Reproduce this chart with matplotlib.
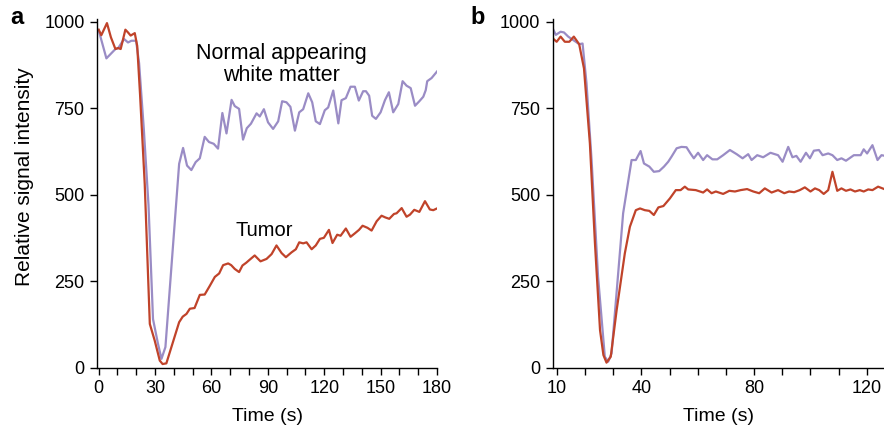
"""Kurva intensitas sinyal relatif (DSC perfusion) untuk tumor dan white matter."""

import matplotlib

matplotlib.use("Agg")
import matplotlib.pyplot as plt
from matplotlib import font_manager
from matplotlib.ticker import FixedLocator, MultipleLocator

# Panel a: waktu (s) dan nilai intensitas.
a_wm_time = [0, 4.1, 8.9, 10.3, 13.5, 15.6, 17.4, 19.9, 21.5, 24, 26.5, 28.9, 31.5,
             33.4, 35.5, 42.8, 44.9, 47, 49.3, 51.6, 53.8, 56.4, 58.7, 61.2, 63.5, 65.8,
             68, 70.7, 72.4, 74.7, 76.8, 78.8, 81, 84, 85.7, 87.9, 90.1, 92.8, 95.5, 97.6,
             99.9, 102, 104.4, 106.7, 108.8, 111.5, 113.6, 115.5, 117.7, 120.3, 122.1,
             124.8, 127.5, 129.2, 131.5, 134, 136.3, 138.4, 140.7, 142.2, 143.9, 145.5,
             147.5, 150, 152.3, 154.4, 156.7, 159.4, 161.7, 163.8, 166, 168.3, 170.6,
             172.7, 174, 174.8, 177.1, 180]
a_wm_value = [975, 894, 921, 923, 950, 940, 945, 945, 880, 690, 470, 140, 70,
              25, 59, 589, 635, 584, 571, 594, 605, 667, 652, 647, 633, 736,
              677, 774, 756, 748, 659, 692, 705, 735, 726, 747, 709, 690, 712, 770,
              767, 754, 685, 738, 747, 793, 767, 712, 704, 744, 752,
              801, 706, 773, 779, 812, 812, 772, 799, 799, 786, 728,
              719, 738, 773, 796, 738, 762, 828, 815, 808, 757, 770,
              783, 802, 828, 837, 856]

a_tumor_time = [0, 1.4, 4.4, 6.5, 8.9, 10.3, 11.7, 14.2, 15.6, 17, 19.2, 20.5, 22,
                24.5, 27.2, 29.8, 32.5, 34, 36, 42.8, 44.7, 46.7, 48.5, 51, 53.8, 56.4,
                59.1, 61.8, 64.1, 66.2, 68.9, 70.5, 72.4, 74.7, 76.5, 78.5, 80.4, 83,
                86.1, 89.3, 92, 94.6, 97.3, 99.6, 102.6, 104.9, 106.7, 108.8, 110.6,
                113.3, 115.5, 117.7, 119.8, 122.5, 124.4, 126.9, 128.7, 131.5, 134,
                136.3, 138.5, 140.4, 143, 145.2, 147.9, 150.5, 152.5, 154.6, 157.1,
                158.5, 161.2, 163.8, 165.6, 167.9, 170.6, 173.6, 176.2, 178, 180]
a_tumor_value = [977, 961, 996, 955, 921, 924, 921, 977, 969, 960, 967, 930, 790,
                 530, 126, 78, 20, 10, 12, 131, 147, 155, 170, 172, 210, 211,
                 236, 262, 272, 296, 301, 296, 285, 276, 295, 303, 312, 324,
                 307, 314, 328, 353, 331, 319, 333, 342, 362, 359, 362,
                 342, 353, 372, 375, 398, 360, 384, 381, 402, 378,
                 388, 398, 410, 404, 396, 423, 439, 434, 430, 444,
                 446, 461, 436, 442, 456, 450, 481, 457, 455, 460]

# Panel b: rekaman kedua dengan jendela waktu 10-126 s.
b_wm_time = [8.5, 9.6, 11.3, 12.5, 14, 15.4, 16.7, 17.9, 19.1, 20.5, 22.3, 24.6, 27,
             28.2, 29.4, 33.5, 36.5, 38, 39.7, 40.9, 42.8, 44.4, 46.3, 48, 49.5, 50.7,
             52.5, 54.2, 56, 57.4, 58.6, 60.1, 61.9, 63.3, 65.2, 66.9, 69, 71.4, 73.8,
             75.9, 77.9, 79.1, 81.1, 83.2, 85.8, 88.5, 90.1, 92.1, 93.6, 95, 96.5,
             98.4, 99.8, 101.2, 103, 104.3, 106.3, 107.8, 109.5, 111, 112.6, 115.4,
             117.8, 118.9, 120.1, 122, 123.8, 125.2, 126.5]
b_wm_value = [981, 962, 971, 969, 957, 949, 942, 935, 937, 822, 600, 263, 31,
              17, 41, 446, 600, 600, 626, 590, 581, 566, 568, 581, 595, 610,
              634, 638, 637, 619, 605, 621, 600, 614, 602, 602, 614, 629, 617,
              605, 617, 600, 614, 608, 621, 614, 595, 638, 608, 612, 595,
              621, 605, 627, 629, 614, 619, 614, 600, 605, 598, 614,
              614, 631, 619, 643, 600, 614, 612]

b_tumor_time = [8.5, 9.9, 11.3, 12.8, 14.4, 16, 17.9, 19.6, 21.7, 23.5, 25.3, 26.5,
                27.6, 29.1, 31.2, 34.1, 35.9, 38, 39.5, 41.2, 42.8, 44.4, 46, 47.8,
                50.1, 52.2, 53.9, 55.4, 56.6, 59.3, 61.9, 63.3, 64.9, 66.4, 69, 71.2,
                73.2, 75.2, 77.5, 79.7, 81.8, 83.8, 86.2, 88.5, 90.7, 92.4, 94.2,
                96.2, 98, 100, 101.6, 103.1, 104.7, 106.3, 107.8, 109.5, 111, 112.6,
                114.2, 115.8, 117.5, 118.9, 120.5, 122, 124, 126.5]
b_tumor_value = [952, 942, 957, 942, 942, 957, 935, 865, 648, 359, 108, 36,
                 14, 31, 166, 330, 407, 455, 460, 455, 453, 441, 463, 467,
                 489, 513, 513, 523, 515, 513, 506, 515, 504, 509, 502, 511,
                 509, 513, 516, 509, 504, 518, 506, 513, 504, 509, 507,
                 513, 521, 509, 518, 513, 502, 513, 566, 511, 518, 511,
                 515, 509, 513, 509, 515, 513, 523, 515]

RED = "#c0432a"
PURPLE = "#9a8cc5"


def pick_font() -> str:
    """Pakai font mirip Helvetica bila tersedia."""
    names = {f.name for f in font_manager.fontManager.ttflist}
    for name in ("Liberation Sans", "DejaVu Sans"):
        if name in names:
            return name
    return "DejaVu Sans"


def style_axis(ax) -> None:
    """Hanya spine kiri dan bawah, tick keluar seperti figur jurnal."""
    for side in ("top", "right"):
        ax.spines[side].set_visible(False)
    for side in ("left", "bottom"):
        ax.spines[side].set_linewidth(1.0)
    ax.tick_params(which="both", direction="out", length=5, width=1.0,
                   labelsize=13, pad=4)
    ax.set_ylim(0, 1007)
    ax.yaxis.set_major_locator(FixedLocator([0, 250, 500, 750, 1000]))
    ax.set_xlabel("Time (s)", fontsize=14, labelpad=8)


def main() -> None:
    plt.rcParams["font.family"] = [pick_font(), "DejaVu Sans"]
    fig = plt.figure(figsize=(8.84, 4.37), dpi=100)

    # Panel a: rekaman 0-180 s.
    ax_a = fig.add_axes([97 / 884, 1 - 367.5 / 437, 340 / 884, 348.2 / 437])
    ax_a.plot(a_wm_time, a_wm_value, color=PURPLE, lw=1.6, solid_joinstyle="round")
    ax_a.plot(a_tumor_time, a_tumor_value, color=RED, lw=1.6, solid_joinstyle="round")
    style_axis(ax_a)
    ax_a.set_xlim(-0.9, 180)
    ax_a.xaxis.set_major_locator(MultipleLocator(30))
    ax_a.xaxis.set_minor_locator(MultipleLocator(10))
    ax_a.text(97, 877, "Normal appearing\nwhite matter", ha="center", va="center",
              fontsize=15.5, linespacing=1.05)
    ax_a.text(88, 396, "Tumor", ha="center", va="center", fontsize=14.5)

    # Panel b: rekaman kedua, sumbu x dimulai di 10 s.
    ax_b = fig.add_axes([552.7 / 884, 1 - 367.5 / 437, 331.3 / 884, 348.2 / 437])
    ax_b.plot(b_wm_time, b_wm_value, color=PURPLE, lw=1.6, solid_joinstyle="round")
    ax_b.plot(b_tumor_time, b_tumor_value, color=RED, lw=1.6, solid_joinstyle="round")
    style_axis(ax_b)
    ax_b.set_xlim(8.5, 126.1)
    ax_b.xaxis.set_major_locator(FixedLocator([10, 40, 80, 120]))
    ax_b.xaxis.set_minor_locator(FixedLocator([20, 30, 50, 60, 70, 90, 100, 110]))

    fig.text(25 / 884, 1 - 177 / 437, "Relative signal intensity", rotation=90,
             ha="center", va="center", fontsize=15)
    fig.text(17 / 884, 1 - 17 / 437, "a", ha="center", va="center",
             fontsize=17, fontweight="bold")
    fig.text(478 / 884, 1 - 17 / 437, "b", ha="center", va="center",
             fontsize=17, fontweight="bold")

    fig.savefig("out.png", dpi=100)
    plt.close(fig)


if __name__ == "__main__":
    main()
